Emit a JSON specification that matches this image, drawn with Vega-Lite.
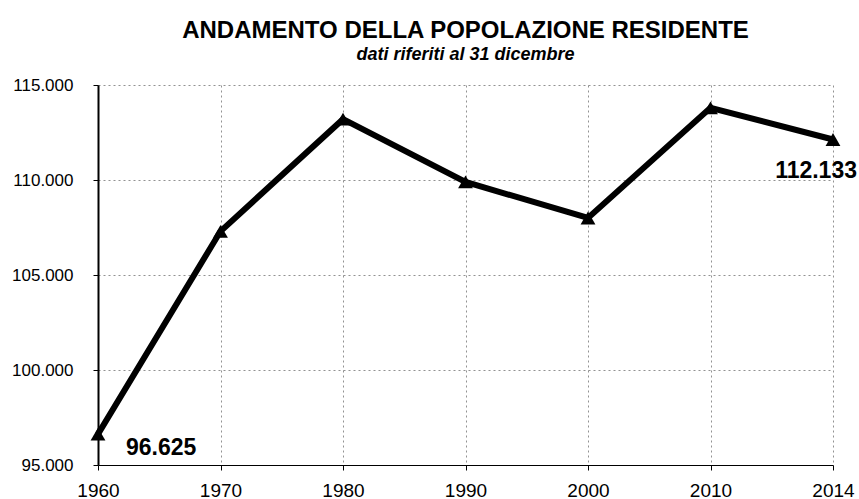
{
  "$schema": "https://vega.github.io/schema/vega-lite/v6.json",
  "width": 735,
  "height": 380,
  "autosize": {"type": "none"},
  "padding": {"left": 98, "top": 85, "right": 26, "bottom": 34},
  "background": "white",
  "config": {
    "locale": {"number": {"decimal": ",", "thousands": ".", "grouping": [3], "currency": ["€", ""]}},
    "view": {"stroke": null},
    "font": "Liberation Sans"
  },
  "title": {
    "text": "ANDAMENTO DELLA POPOLAZIONE RESIDENTE",
    "subtitle": "dati riferiti al 31 dicembre",
    "anchor": "middle",
    "font": "Liberation Sans",
    "fontSize": 24,
    "fontWeight": "bold",
    "color": "black",
    "subtitleFont": "Liberation Sans",
    "subtitleFontSize": 18,
    "subtitleFontStyle": "italic",
    "subtitleFontWeight": "bold",
    "subtitleColor": "black",
    "subtitlePadding": 3,
    "offset": 12
  },
  "data": {
    "values": [
      {"year": "1960", "pop": 96625},
      {"year": "1970", "pop": 107300},
      {"year": "1980", "pop": 113200},
      {"year": "1990", "pop": 109900},
      {"year": "2000", "pop": 108000},
      {"year": "2010", "pop": 113800},
      {"year": "2014", "pop": 112133}
    ]
  },
  "encoding": {
    "x": {
      "field": "year",
      "type": "ordinal",
      "sort": null,
      "scale": {"type": "point", "padding": 0},
      "axis": {
        "title": null,
        "labelAngle": 0,
        "labelFont": "Liberation Sans",
        "labelFontSize": 19,
        "labelColor": "black",
        "labelPadding": 11,
        "tickSize": 5,
        "tickColor": "black",
        "domainColor": "black",
        "domainWidth": 1,
        "grid": true,
        "gridColor": "#777",
        "gridDash": [2, 3],
        "gridWidth": 1,
        "gridOpacity": 0.8
      }
    },
    "y": {
      "field": "pop",
      "type": "quantitative",
      "scale": {"domain": [95000, 115000], "nice": false, "zero": false},
      "axis": {
        "title": null,
        "values": [95000, 100000, 105000, 110000, 115000],
        "format": ",d",
        "labelFont": "Liberation Sans",
        "labelFontSize": 17,
        "labelColor": "black",
        "labelPadding": 20,
        "tickSize": 5,
        "tickColor": "black",
        "domainColor": "black",
        "domainWidth": 2,
        "grid": true,
        "gridColor": "#777",
        "gridDash": [2, 3],
        "gridWidth": 1,
        "gridOpacity": 0.8
      }
    }
  },
  "layer": [
    {"mark": {"type": "line", "color": "black", "strokeWidth": 6, "strokeJoin": "miter"}},
    {"mark": {"type": "point", "shape": "triangle-up", "filled": true, "color": "black", "size": 220, "opacity": 1}},
    {
      "transform": [{"filter": "datum.year == '1960'"}],
      "mark": {"type": "text", "align": "left", "baseline": "middle", "dx": 28, "dy": 14, "fontSize": 23, "fontWeight": "bold", "color": "black", "font": "Liberation Sans"},
      "encoding": {"text": {"field": "pop", "type": "quantitative", "format": ",d"}}
    },
    {
      "transform": [{"filter": "datum.year == '2014'"}],
      "mark": {"type": "text", "align": "right", "baseline": "middle", "dx": 24, "dy": 32, "fontSize": 23, "fontWeight": "bold", "color": "black", "font": "Liberation Sans"},
      "encoding": {"text": {"field": "pop", "type": "quantitative", "format": ",d"}}
    }
  ]
}
